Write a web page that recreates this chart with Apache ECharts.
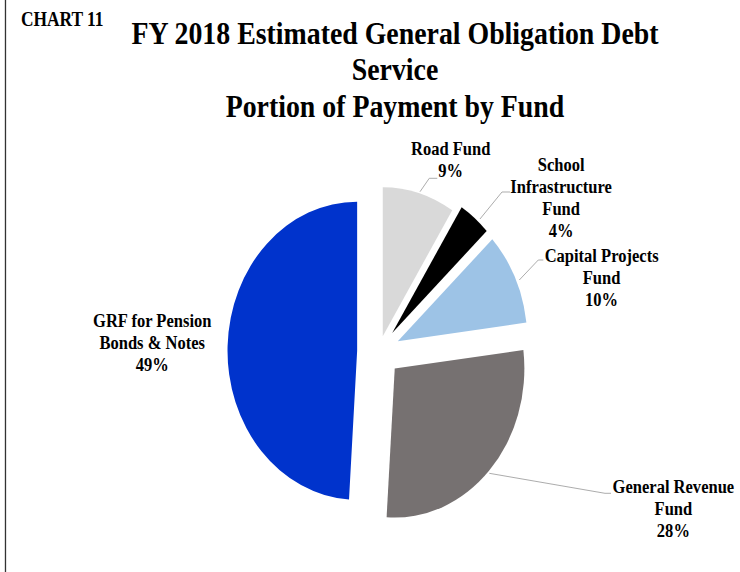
<!DOCTYPE html>
<html>
<head>
<meta charset="utf-8">
<script src="https://cdn.jsdelivr.net/npm/echarts@6/dist/echarts.min.js"></script>
<style>
	html, body { margin: 0; padding: 0; background: #fff; overflow: hidden; }
	/* the original picture is squeezed sideways, so draw wide and squeeze */
	#main { width: 850px; height: 572px; transform: scaleX(0.87); transform-origin: 0 0; }
</style>
</head>
<body>
<div id="main"></div>
<script>
const categories = ["Road Fund", "School\nInfrastructure\nFund", "Capital Projects\nFund", "General Revenue\nFund", "GRF for Pension\nBonds & Notes"];
const shares = [9, 4, 10, 28, 49];
const colors = ["#d9d9d9", "#000000", "#9dc3e6", "#767171", "#0033cc"];

// how far each slice is pulled out
const explode = [16, 24, 24, 25, 25];
// label block centres and leader lines
const labelPos = [[518, 160], [645, 197.5], [691.5, 277.5], [774, 508.5], [175, 342.5]];
const leaders = [
	[[482.8, 191.7], [493.4, 178.3], [502.6, 178.3]],
	[[551.7, 219], [577, 192], [586.2, 192]],
	[[596.9, 280], [618.7, 260], [624.5, 260]],
	[[562.4, 473.3], [695.4, 493.3], [702.3, 493.3]],
	null
];

const serif = '"Liberation Serif", "Times New Roman", serif';

let myCharts = echarts.init(document.getElementById("main"), null, { renderer: "svg" });

let series = categories.map(function (c, i) {
	return {
		type: "pie",
		center: [435.5, 351.5],
		radius: 149,
		startAngle: 90,
		clockwise: true,
		selectedMode: "multiple",
		selectedOffset: explode[i],
		avoidLabelOverlap: false,
		label: { show: false },
		labelLine: { show: false },
		emphasis: { disabled: true },
		itemStyle: { borderWidth: 0 },
		data: shares.map(function (v, j) {
			return {
				name: categories[j],
				value: v,
				selected: j === i,
				itemStyle: { color: j === i ? colors[j] : "transparent" },
			};
		}),
	};
});

let graphics = [
	{ type: "line", shape: { x1: 6.3, y1: 0, x2: 6.3, y2: 572 }, style: { stroke: "#333", lineWidth: 1.5 } },
	{
		type: "text", x: 24, y: 19.5,
		style: { text: "CHART 11", font: "bold 20px " + serif, fill: "#000", align: "left", verticalAlign: "middle" },
	},
	{
		type: "text", x: 454, y: 69,
		style: {
			text: "FY 2018 Estimated General Obligation Debt\nService\nPortion of Payment by Fund",
			font: "bold 32px " + serif, lineHeight: 36.5, fill: "#000", align: "center", verticalAlign: "middle",
		},
	},
];

let total = shares.reduce(function (a, b) { return a + b; }, 0);
categories.forEach(function (c, i) {
	graphics.push({
		type: "text", x: labelPos[i][0], y: labelPos[i][1],
		style: {
			text: c + "\n" + Math.round(shares[i] / total * 100) + "%",
			font: "bold 19px " + serif, lineHeight: 22, fill: "#000", align: "center", verticalAlign: "middle",
		},
	});
	if (leaders[i]) {
		graphics.push({
			type: "polyline",
			shape: { points: leaders[i] },
			style: { stroke: "#a6a6a6", lineWidth: 1, fill: null },
		});
	}
});

let option = {
	animation: false,
	backgroundColor: "#fff",
	series: series,
	graphic: graphics,
};
myCharts.setOption(option);
</script>
</body>
</html>
